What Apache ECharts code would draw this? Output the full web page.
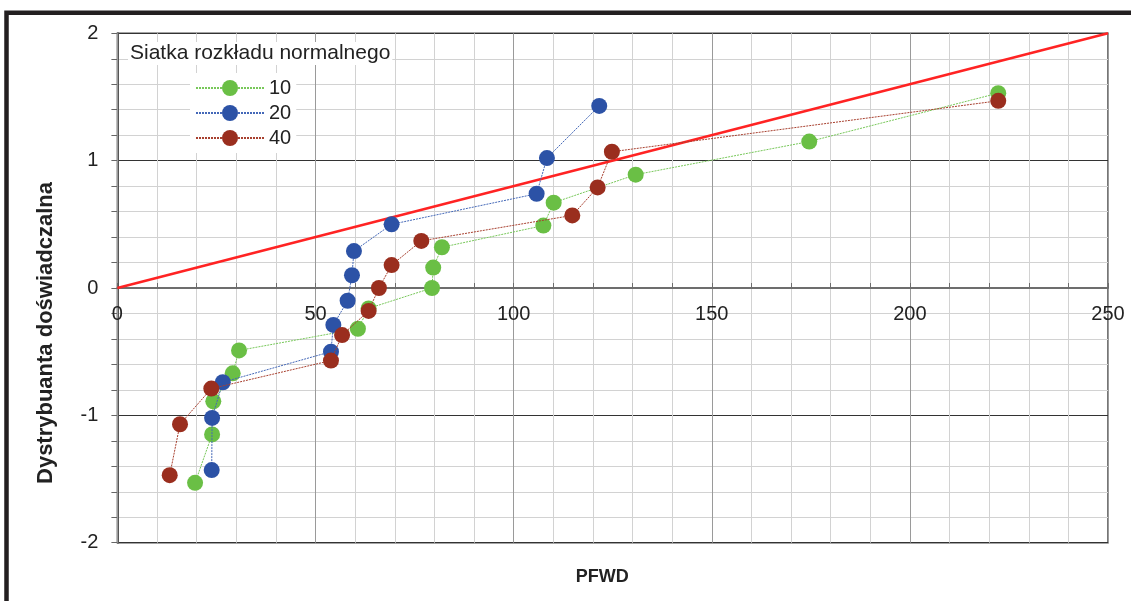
<!DOCTYPE html>
<html>
<head>
<meta charset="utf-8">
<script src="https://cdn.jsdelivr.net/npm/echarts@6/dist/echarts.min.js"></script>
<style>
  html, body { margin: 0; padding: 0; background: #fff; }
  #chart { width: 1131px; height: 601px; }
</style>
</head>
<body>
<div id="chart"></div>
<script>
// ---- data ----
const legendTitle = 'Siatka rozkładu normalnego';
const xName = 'PFWD';
const yName = 'Dystrybuanta doświadczalna';
const seriesNames = ['10', '20', '40'];

const x10 = [19.6, 23.9, 24.2, 29.1, 30.7, 60.7, 63.4, 79.4, 79.7, 81.9, 107.5, 110.1, 130.8, 174.6, 222.3];
const y10 = [-1.53, -1.15, -0.89, -0.67, -0.49, -0.32, -0.16, 0, 0.16, 0.32, 0.49, 0.67, 0.89, 1.15, 1.53];

const x20 = [23.8, 23.9, 26.6, 53.9, 54.5, 58.1, 59.2, 59.7, 69.2, 105.8, 108.4, 121.6];
const y20 = [-1.43, -1.02, -0.74, -0.50, -0.29, -0.10, 0.10, 0.29, 0.50, 0.74, 1.02, 1.43];

const x40 = [13.2, 15.8, 23.7, 53.9, 56.7, 63.4, 66.0, 69.2, 76.7, 114.8, 121.2, 124.8, 222.3];
const y40 = [-1.47, -1.07, -0.79, -0.57, -0.37, -0.18, 0, 0.18, 0.37, 0.57, 0.79, 1.07, 1.47];

const refLineX = [0, 250];
const refLineY = [0, 2];

const xMin = 0, xMax = 250, xStep = 10, xLabelStep = 50;
const yMin = -2, yMax = 2, yStep = 0.2;

// ---- chart ----
const FONT = '"Liberation Sans", Arial, sans-serif';
const pairs = (xs, ys) => xs.map((x, i) => [x, ys[i]]);

const GRID = { left: 117.4, right: 23, top: 33.3, bottom: 58.3 };
const plotH = 601 - GRID.top - GRID.bottom;
// x axis drawn across the y = 0 level (same place the reference puts it)
const zeroOffset = -plotH * (0 - yMin) / (yMax - yMin);

const chart = echarts.init(document.getElementById('chart'), null, { renderer: 'canvas' });

const colors = {
  g: '#6abf45', gl: '#78c85a',
  b: '#2c52a6', bl: '#4468b8',
  r: '#9a2e1e', rl: '#a8402f'
};

const option = {
  animation: false,
  backgroundColor: '#ffffff',
  textStyle: { fontFamily: FONT },
  grid: {
    left: GRID.left, right: GRID.right, top: GRID.top, bottom: GRID.bottom,
    containLabel: false, outerBoundsMode: 'none',
    show: true, borderColor: '#4a4a4a', borderWidth: 1.5, backgroundColor: 'transparent'
  },
  title: {
    text: legendTitle,
    left: 128, top: 42,
    padding: [1, 2],
    backgroundColor: '#ffffff',
    textStyle: { fontFamily: FONT, fontSize: 21, fontWeight: 'normal', color: '#222' }
  },
  legend: {
    data: seriesNames,
    orient: 'vertical',
    left: 190, top: 73,
    padding: 5,
    backgroundColor: '#ffffff',
    itemWidth: 68, itemHeight: 20, itemGap: 5,
    textStyle: { fontFamily: FONT, fontSize: 20, color: '#222', lineHeight: 20 }
  },
  xAxis: {
    type: 'value', min: xMin, max: xMax, interval: xStep, z: 1,
    offset: zeroOffset,
    name: xName, nameLocation: 'middle', nameGap: 280,
    nameTextStyle: { fontFamily: FONT, fontSize: 18, fontWeight: 'bold', color: '#222', padding: [0, 21, 0, 0] },
    axisLine: { show: true, onZero: false, lineStyle: { color: '#6d6d6d', width: 2 } },
    axisTick: { show: true, inside: true, length: 5, lineStyle: { color: '#6d6d6d', width: 1 } },
    axisLabel: {
      fontFamily: FONT, fontSize: 20, color: '#222', margin: 16,
      showMinLabel: true, showMaxLabel: true,
      formatter: v => { const r = Math.round(v); return (Math.abs(v - r) < 1e-6 && r % xLabelStep === 0) ? String(r) : ''; }
    },
    splitLine: { show: true, lineStyle: { color: ['#9a9a9a', '#d2d2d2', '#d2d2d2', '#d2d2d2', '#d2d2d2'], width: 1 } }
  },
  yAxis: {
    type: 'value', min: yMin, max: yMax, interval: yStep,
    name: yName, nameLocation: 'middle', nameGap: 60, nameRotate: 90,
    nameTextStyle: { fontFamily: FONT, fontSize: 22, fontWeight: 'bold', color: '#222', padding: [0, 90, 0, 0] },
    axisLine: { show: true, onZero: false, lineStyle: { color: '#555', width: 2 } },
    axisTick: { show: true, inside: false, length: 6, lineStyle: { color: '#666', width: 1 } },
    axisLabel: {
      fontFamily: FONT, fontSize: 20, color: '#222', margin: 19,
      formatter: v => { const r = Math.round(v); return Math.abs(v - r) < 1e-6 ? String(r) : ''; }
    },
    splitLine: { show: true, lineStyle: { color: ['#333', '#d2d2d2', '#d2d2d2', '#d2d2d2', '#d2d2d2'], width: 1.2 } }
  },
  graphic: [{
    type: 'rect', silent: true, z: 100,
    shape: { x: 6.5, y: 12.8, width: 1300, height: 800 },
    style: { fill: 'none', stroke: '#231f20', lineWidth: 4.5 }
  }],
  series: [
    {
      name: 'ref', type: 'line', data: pairs(refLineX, refLineY),
      symbol: 'none', silent: true, z: 2,
      lineStyle: { color: '#ff2323', width: 2.5 }
    },
    {
      name: seriesNames[0], type: 'line', data: pairs(x10, y10), z: 3,
      symbol: 'circle', symbolSize: 16,
      itemStyle: { color: colors.g },
      lineStyle: { color: colors.gl, width: 1, type: [2, 1] }
    },
    {
      name: seriesNames[1], type: 'line', data: pairs(x20, y20), z: 4,
      symbol: 'circle', symbolSize: 16,
      itemStyle: { color: colors.b },
      lineStyle: { color: colors.bl, width: 1, type: [2, 1] }
    },
    {
      name: seriesNames[2], type: 'line', data: pairs(x40, y40), z: 5,
      symbol: 'circle', symbolSize: 16,
      itemStyle: { color: colors.r },
      lineStyle: { color: colors.rl, width: 1, type: [2, 1] }
    }
  ]
};

chart.setOption(option);
</script>
</body>
</html>
